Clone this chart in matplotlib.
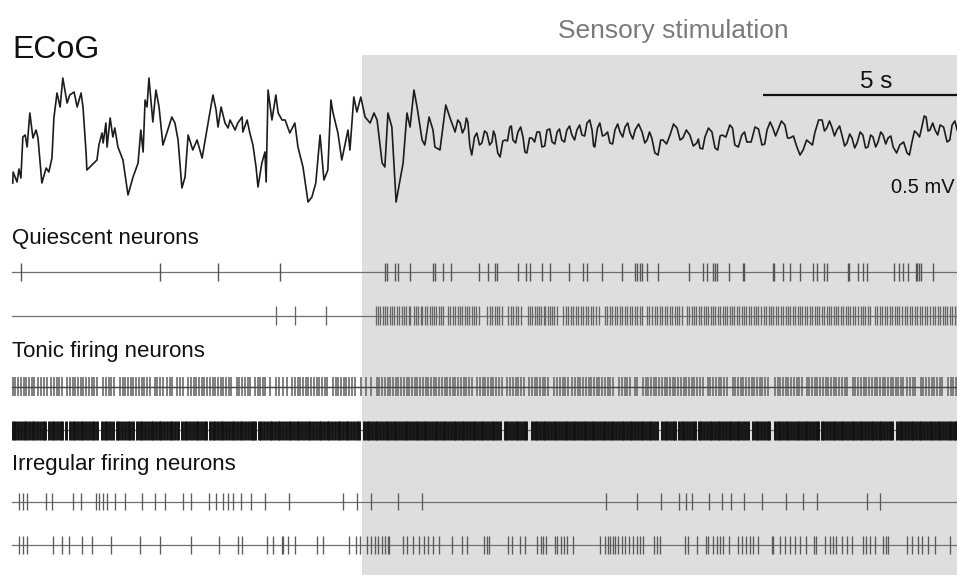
import numpy as np
import matplotlib
matplotlib.use("Agg")
import matplotlib.pyplot as plt

plt.rcParams['font.family'] = ['Liberation Sans', 'DejaVu Sans']

# ---------------- data (time in s, ECoG in mV) ----------------
ecog_t = [0.02, 0.03, 0.13, 0.18, 0.23, 0.28, 0.34, 0.39, 0.46, 0.54, 0.62, 0.67, 0.77, 0.88, 0.95,
          1.03, 1.08, 1.16, 1.24, 1.31, 1.42, 1.49, 1.60, 1.68, 1.78, 1.83, 1.91, 1.93, 2.06, 2.19,
          2.24, 2.32, 2.35, 2.42, 2.45, 2.53, 2.60, 2.65, 2.73, 2.86, 2.99, 3.12, 3.25, 3.32, 3.38,
          3.43, 3.48, 3.53, 3.63, 3.71, 3.79, 3.89, 3.99, 4.12, 4.20, 4.28, 4.38, 4.46, 4.54, 4.66,
          4.77, 4.90, 5.00, 5.08, 5.18, 5.26, 5.31, 5.39, 5.49, 5.57, 5.62, 5.75, 5.82, 5.93, 5.95,
          6.06, 6.13, 6.21, 6.29, 6.34, 6.44, 6.52, 6.55, 6.60, 6.70, 6.80, 6.86, 6.96, 7.04, 7.16,
          7.29, 7.37, 7.50, 7.63, 7.73, 7.83, 7.94, 8.04, 8.14, 8.22, 8.27, 8.40, 8.50, 8.66, 8.71,
          8.81, 8.89, 8.99, 9.10, 9.23, 9.33, 9.41, 9.54, 9.61, 9.69, 9.79, 9.90, 9.97, 10.08, 10.18,
          10.26, 10.36, 10.44, 10.57, 10.64, 10.75, 10.85, 10.90, 11.03, 11.18, 11.29, 11.42, 11.55,
          11.67, 11.75, 11.85, 11.98, 12.11, 12.24, 12.37, 12.45, 12.58, 12.71, 12.83, 12.91, 13.04,
          13.17, 13.27, 13.40, 13.53, 13.66, 13.79, 13.92, 14.05, 14.17, 14.30, 14.43, 14.56, 14.69,
          14.82, 14.95, 15.02, 15.15, 15.28, 15.41, 15.54, 15.67, 15.80, 15.93, 16.06, 16.24, 16.37,
          16.49, 16.65, 16.78, 16.96, 17.14, 17.29, 17.47, 17.65, 17.73, 17.86, 18.04, 18.19, 18.30,
          18.50, 18.63, 18.81, 18.94, 19.15, 19.33, 19.46, 19.61, 19.74, 19.92, 20.05, 20.23, 20.39,
          20.57, 20.69, 20.88, 21.00, 21.13, 21.26, 21.39, 21.52, 21.65, 21.78, 21.93, 22.06, 22.19,
          22.32, 22.45, 22.58, 22.71, 22.88, 23.07, 23.19, 23.32, 23.45, 23.56, 23.66, 23.79, 23.92,
          24.10, 24.23, 24.36]
ecog_mv = [-0.215, -0.16, -0.21, -0.145, -0.19, 0.015, 0.025, -0.035, 0.135, 0.01, 0.05, 0.01, -0.215,
           -0.14, -0.16, -0.09, 0.11, 0.235, 0.165, 0.31, 0.185, 0.225, 0.24, 0.165, 0.235, 0.165,
           -0.065, -0.15, -0.125, -0.10, -0.025, 0.035, -0.015, 0.085, -0.035, 0.11, 0.015, 0.06,
           -0.035, -0.10, -0.275, -0.185, -0.115, 0.05, -0.06, 0.20, 0.165, 0.31, 0.09, 0.25, 0.165,
           -0.025, 0.035, 0.115, 0.085, 0.0, -0.24, -0.185, 0.025, -0.05, 0.0, -0.09, 0.025, 0.115,
           0.225, 0.15, 0.065, 0.165, 0.085, 0.06, 0.10, 0.05, 0.085, 0.115, 0.04, 0.10, 0.035,
           -0.025, -0.135, -0.235, -0.115, -0.06, -0.21, 0.25, 0.10, 0.225, 0.135, 0.10, 0.10, 0.035,
           0.085, -0.035, -0.135, -0.31, -0.285, -0.215, 0.025, -0.20, -0.15, 0.20, 0.14, 0.035,
           -0.10, 0.05, -0.05, 0.215, 0.14, 0.215, 0.115, 0.085, 0.135, 0.10, -0.115, -0.135, 0.135,
           0.065, -0.31, -0.235, -0.115, 0.135, 0.065, 0.25, 0.165, 0.0, -0.025, 0.115, 0.05, -0.035,
           -0.05, 0.175, 0.11, 0.04, 0.085, 0.06, 0.09, -0.075, 0.035, -0.015, 0.035, -0.01, 0.025,
           -0.085, 0.0, 0.065, 0.0, 0.04, 0.015, -0.065, 0.01, 0.04, -0.035, 0.05, -0.01, 0.04, 0.0,
           0.05, 0.025, 0.05, 0.025, 0.085, 0.05, -0.035, 0.085, 0.025, -0.015, 0.05, 0.04, 0.065,
           0.035, 0.05, 0.04, 0.0, 0.01, -0.075, 0.0, 0.025, 0.06, 0.01, 0.025, -0.015, -0.04, 0.015,
           0.04, -0.05, 0.025, 0.075, -0.025, 0.025, -0.01, 0.065, -0.025, 0.05, 0.06, 0.05, 0.075,
           0.01, -0.035, -0.05, -0.015, 0.035, 0.10, 0.06, 0.065, 0.05, 0.025, -0.015, 0.01, -0.015,
           0.025, -0.035, 0.015, -0.01, 0.025, 0.01, -0.035, -0.025, -0.065, -0.015, 0.035, 0.065,
           0.115, 0.05, 0.05, 0.075, -0.01, 0.075, 0.05]
# fast jitter samples read between the coarse points after stimulation
ecog_jitter_t = [11.49, 11.61, 11.71, 11.80, 11.92, 12.05, 12.18, 12.31, 12.41, 12.52, 12.65, 12.77,
                 12.87, 12.98, 13.11, 13.22, 13.34, 13.47, 13.60, 13.73, 13.86, 13.99, 14.11, 14.24,
                 14.37, 14.50, 14.63, 14.76, 14.89, 14.99, 15.09, 15.22, 15.35, 15.48, 15.61, 15.74,
                 15.87, 16.00, 16.15, 16.31, 16.43, 16.57, 16.72, 16.87, 17.05, 17.22, 17.38, 17.56,
                 17.69, 17.80, 17.95, 18.12, 18.25, 18.40, 18.57, 18.72, 18.88, 19.05, 19.24, 19.40,
                 19.54, 19.68, 19.83, 19.99, 20.14, 20.31, 20.48, 20.63, 20.79, 20.94, 21.07, 21.20,
                 21.33, 21.46, 21.59, 21.72, 21.86, 22.00, 22.13, 22.26, 22.39, 22.52, 22.65, 22.80,
                 22.98, 23.13, 23.26, 23.39, 23.51, 23.61, 23.73, 23.86, 24.01, 24.17, 24.30]
ecog_jitter_mv = [0.10, 0.035, 0.11, -0.03, 0.015, -0.025, 0.045, -0.025, 0.045, -0.065, -0.005,
                  -0.005, 0.07, -0.015, 0.065, -0.06, 0.01, -0.01, 0.04, -0.03, 0.055, -0.02, 0.055,
                  -0.01, 0.07, 0.0, 0.075, 0.02, 0.10, -0.03, 0.06, 0.02, 0.04, -0.02, 0.08, 0.015,
                  0.085, 0.005, 0.08, -0.015, 0.04, -0.065, 0.0, -0.02, 0.08, 0.0, 0.05, -0.03, 0.005,
                  -0.045, 0.06, -0.04, 0.02, 0.015, 0.06, -0.035, 0.04, -0.01, 0.055, -0.02, 0.09,
                  0.02, 0.095, 0.01, 0.02, -0.075, 0.0, -0.025, 0.10, 0.045, 0.095, 0.02, 0.07, -0.03,
                  0.03, -0.04, 0.04, -0.04, 0.025, -0.035, 0.04, -0.02, 0.02, -0.065, -0.01, -0.075,
                  0.045, 0.015, 0.12, 0.045, 0.085, 0.025, 0.065, 0.0, 0.095]

quiescent_1 = [0.23, 3.81, 5.31, 6.91, 9.61, 9.67, 9.87, 9.94, 10.26, 10.86, 10.89, 11.12, 11.31,
               12.04, 12.28, 12.45, 12.49, 13.05, 13.25, 13.35, 13.65, 13.87, 14.36, 14.72, 14.81,
               15.20, 15.71, 16.06, 16.12, 16.19, 16.25, 16.36, 16.66, 17.46, 17.80, 17.92, 18.06,
               18.12, 18.18, 18.49, 18.83, 18.87, 19.61, 19.64, 19.86, 20.05, 20.31, 20.64, 20.74,
               20.93, 21.00, 21.55, 21.58, 21.81, 21.94, 22.03, 22.73, 22.87, 22.97, 23.10, 23.30,
               23.33, 23.38, 23.42, 23.75]

quiescent_2 = [6.80, 7.29, 8.09,
               9.38, 9.44, 9.49, 9.55, 9.62, 9.67, 9.74, 9.80, 9.85, 9.93, 9.98, 10.04, 10.11, 10.16,
               10.22, 10.27, 10.35, 10.40, 10.46, 10.53, 10.58, 10.65, 10.70, 10.77, 10.82, 10.88,
               10.94, 11.01, 11.06, 11.12,
               11.24, 11.30, 11.37, 11.42, 11.49, 11.55, 11.60, 11.68, 11.73, 11.79, 11.86, 11.91,
               11.97, 12.03,
               12.24, 12.31, 12.37, 12.44, 12.50, 12.56, 12.62,
               12.78, 12.85, 12.92, 12.98, 13.05, 13.11,
               13.30, 13.36, 13.41, 13.47, 13.53, 13.58, 13.64, 13.70, 13.75, 13.81, 13.86, 13.92,
               13.98, 14.04,
               14.20, 14.27, 14.33, 14.40, 14.46, 14.53, 14.59, 14.66, 14.72, 14.79, 14.85, 14.92,
               14.98, 15.05, 15.12,
               15.28, 15.34, 15.41, 15.47, 15.54, 15.60, 15.66, 15.73, 15.79, 15.86, 15.92, 15.99,
               16.05, 16.12, 16.18, 16.24,
               16.37, 16.43, 16.50, 16.56, 16.63, 16.69, 16.75, 16.82, 16.88, 16.95, 17.01, 17.08,
               17.14, 17.20, 17.27,
               17.40, 17.46, 17.52, 17.58, 17.64, 17.70, 17.77, 17.83, 17.89, 17.95, 18.01, 18.07,
               18.13, 18.19, 18.26, 18.32, 18.38, 18.44, 18.50, 18.56, 18.62, 18.69, 18.75, 18.81,
               18.87, 18.93, 18.99, 19.05, 19.12, 19.18, 19.24, 19.30, 19.37, 19.43,
               19.50, 19.56, 19.62, 19.69, 19.75, 19.81, 19.87, 19.94, 20.00, 20.06, 20.12, 20.19,
               20.25, 20.31, 20.37, 20.44, 20.50, 20.56, 20.62, 20.69, 20.75, 20.81, 20.87, 20.94,
               21.00, 21.06, 21.12, 21.19, 21.24,
               21.30, 21.36, 21.42, 21.49, 21.55, 21.61, 21.68, 21.74, 21.80, 21.87, 21.93, 21.99,
               22.06, 22.12,
               22.24, 22.30, 22.37, 22.43, 22.49, 22.56, 22.62, 22.69, 22.75, 22.81, 22.87,
               22.95, 23.01, 23.08, 23.14, 23.20, 23.27, 23.33, 23.39, 23.46, 23.52, 23.57,
               23.67, 23.73, 23.80, 23.86, 23.92, 23.99, 24.05, 24.11, 24.18, 24.24, 24.30, 24.35]

tonic_1 = [0.02, 0.09, 0.16, 0.23, 0.30, 0.37, 0.44, 0.51, 0.57, 0.68, 0.75, 0.82, 0.89, 1.01, 1.08,
           1.15, 1.22, 1.29, 1.42, 1.49, 1.56, 1.63, 1.70, 1.77, 1.84, 1.91, 1.98, 2.05, 2.12, 2.19,
           2.35, 2.42, 2.49, 2.56, 2.63, 2.78, 2.85, 2.92, 2.99, 3.06, 3.13, 3.20, 3.27, 3.34, 3.41,
           3.48, 3.55, 3.68, 3.75, 3.82, 3.88, 4.00, 4.07, 4.13, 4.26, 4.33, 4.40, 4.54, 4.61, 4.68,
           4.75, 4.82, 4.89, 4.96, 5.03, 5.10, 5.17, 5.24, 5.31, 5.38, 5.45, 5.52, 5.59, 5.65, 5.79,
           5.86, 5.93, 6.00, 6.07, 6.13, 6.26, 6.33, 6.40, 6.47, 6.53, 6.66, 6.80, 6.87, 6.98, 7.10,
           7.22, 7.29, 7.36, 7.43, 7.50, 7.57, 7.64, 7.71, 7.78, 7.85, 7.92, 7.99, 8.06, 8.13, 8.27,
           8.34, 8.41, 8.48, 8.55, 8.62, 8.69, 8.76, 8.83, 8.99, 9.12, 9.25, 9.40, 9.47, 9.54, 9.61,
           9.68, 9.75, 9.82, 9.89, 9.96, 10.03, 10.10, 10.17, 10.24, 10.31, 10.38, 10.45, 10.52,
           10.59, 10.66, 10.73, 10.80, 10.87, 10.94, 11.01, 11.08, 11.15, 11.22, 11.29, 11.36, 11.43,
           11.50, 11.57, 11.64, 11.71, 11.78, 11.86, 11.99, 12.06, 12.13, 12.20, 12.27, 12.34, 12.41,
           12.48, 12.55, 12.62, 12.77, 12.84, 12.91, 12.98, 13.05, 13.12, 13.19, 13.33, 13.40, 13.47,
           13.54, 13.61, 13.68, 13.75, 13.82, 13.98, 14.05, 14.12, 14.19, 14.26, 14.32, 14.44, 14.51,
           14.58, 14.65, 14.72, 14.79, 14.86, 14.93, 15.00, 15.07, 15.14, 15.21, 15.28, 15.35, 15.42,
           15.49, 15.65, 15.72, 15.79, 15.86, 15.93, 16.06, 16.12, 16.26, 16.33, 16.40, 16.47, 16.54,
           16.61, 16.68, 16.75, 16.82, 16.89, 16.96, 17.03, 17.10, 17.17, 17.24, 17.31, 17.38, 17.45,
           17.52, 17.59, 17.66, 17.73, 17.80, 17.93, 18.00, 18.07, 18.14, 18.21, 18.28, 18.35, 18.42,
           18.57, 18.64, 18.71, 18.78, 18.85, 18.92, 18.99, 19.06, 19.13, 19.20, 19.27, 19.34, 19.41,
           19.48, 19.66, 19.73, 19.80, 19.87, 19.94, 20.01, 20.08, 20.15, 20.22, 20.29, 20.35, 20.48,
           20.55, 20.62, 20.69, 20.76, 20.83, 20.90, 20.97, 21.04, 21.11, 21.18, 21.25, 21.32, 21.39,
           21.46, 21.53, 21.67, 21.74, 21.81, 21.88, 21.95, 22.02, 22.09, 22.16, 22.23, 22.30, 22.37,
           22.44, 22.51, 22.58, 22.65, 22.71, 22.79, 22.84, 22.90, 22.96, 23.07, 23.14, 23.21, 23.28,
           23.42, 23.49, 23.56, 23.63, 23.70, 23.77, 23.84, 23.91, 23.98, 24.12, 24.19, 24.26, 24.33]

tonic_2 = [0.02, 0.09, 0.16, 0.23, 0.30, 0.37, 0.44, 0.51, 0.58, 0.65, 0.72, 0.79, 0.85, 0.95, 1.02,
           1.09, 1.16, 1.23, 1.30, 1.40, 1.49, 1.56, 1.63, 1.70, 1.77, 1.84, 1.91, 1.98, 2.05, 2.12,
           2.19, 2.32, 2.39, 2.46, 2.53, 2.60, 2.70, 2.77, 2.84, 2.91, 2.98, 3.05, 3.12, 3.22, 3.29,
           3.36, 3.43, 3.50, 3.57, 3.64, 3.71, 3.78, 3.85, 3.92, 3.99, 4.06, 4.13, 4.20, 4.27, 4.38,
           4.45, 4.52, 4.59, 4.66, 4.73, 4.80, 4.87, 4.94, 5.00, 5.10, 5.17, 5.24, 5.31, 5.38, 5.45,
           5.52, 5.59, 5.66, 5.73, 5.80, 5.87, 5.94, 6.01, 6.08, 6.15, 6.22, 6.27, 6.36, 6.43, 6.50,
           6.57, 6.64, 6.71, 6.78, 6.85, 6.92, 6.99, 7.06, 7.13, 7.20, 7.27, 7.34, 7.41, 7.48, 7.55,
           7.62, 7.69, 7.76, 7.83, 7.90, 7.97, 8.04, 8.11, 8.18, 8.25, 8.32, 8.39, 8.46, 8.53, 8.60,
           8.67, 8.74, 8.81, 8.88, 8.95, 9.07, 9.14, 9.21, 9.28, 9.35, 9.42, 9.49, 9.56, 9.63, 9.70,
           9.77, 9.84, 9.91, 9.98, 10.05, 10.12, 10.19, 10.26, 10.33, 10.40, 10.47, 10.54, 10.61,
           10.68, 10.75, 10.82, 10.89, 10.96, 11.03, 11.10, 11.17, 11.24, 11.31, 11.38, 11.45, 11.52,
           11.59, 11.66, 11.73, 11.80, 11.87, 11.94, 12.01, 12.08, 12.15, 12.22, 12.29, 12.36, 12.43,
           12.50, 12.57, 12.70, 12.77, 12.84, 12.91, 12.98, 13.05, 13.12, 13.19, 13.26, 13.40, 13.47,
           13.54, 13.61, 13.68, 13.75, 13.82, 13.89, 13.96, 14.03, 14.10, 14.17, 14.24, 14.31, 14.38,
           14.45, 14.52, 14.59, 14.66, 14.73, 14.80, 14.87, 14.94, 15.01, 15.08, 15.15, 15.22, 15.29,
           15.36, 15.43, 15.50, 15.57, 15.64, 15.71, 15.78, 15.85, 15.92, 15.99, 16.06, 16.13, 16.20,
           16.27, 16.34, 16.41, 16.48, 16.55, 16.62, 16.75, 16.82, 16.89, 16.96, 17.03, 17.10, 17.19,
           17.26, 17.33, 17.40, 17.47, 17.54, 17.60, 17.70, 17.77, 17.84, 17.91, 17.98, 18.05, 18.12,
           18.19, 18.26, 18.33, 18.40, 18.47, 18.54, 18.61, 18.68, 18.75, 18.82, 18.89, 18.96, 19.10,
           19.17, 19.24, 19.31, 19.38, 19.45, 19.52, 19.66, 19.73, 19.80, 19.87, 19.94, 20.01, 20.08,
           20.15, 20.22, 20.29, 20.36, 20.43, 20.50, 20.57, 20.64, 20.71, 20.77, 20.87, 20.94, 21.01,
           21.08, 21.15, 21.22, 21.29, 21.36, 21.43, 21.50, 21.57, 21.64, 21.71, 21.78, 21.85, 21.92,
           21.99, 22.06, 22.13, 22.20, 22.27, 22.34, 22.41, 22.48, 22.55, 22.62, 22.69, 22.81, 22.88,
           22.95, 23.02, 23.09, 23.16, 23.23, 23.30, 23.37, 23.44, 23.51, 23.58, 23.65, 23.72, 23.79,
           23.86, 23.93, 24.00, 24.07, 24.14, 24.21, 24.28, 24.34]

irregular_1 = [0.18, 0.28, 0.38, 0.87, 1.02, 1.58, 1.77, 2.16, 2.25, 2.34, 2.46, 2.65, 2.91, 3.34,
               3.69, 3.94, 4.41, 4.61, 5.08, 5.26, 5.43, 5.57, 5.70, 5.89, 6.15, 6.52, 7.15, 8.54,
               8.90, 9.24, 9.96, 10.56, 15.31, 16.10, 16.73, 17.19, 17.37, 17.52, 17.96, 18.29,
               18.52, 18.87, 19.32, 19.95, 20.38, 20.74, 22.03, 22.37]

irregular_2 = [0.18, 0.28, 0.38, 1.06, 1.28, 1.48, 1.80, 2.05, 2.54, 3.30, 3.81, 4.61, 5.34, 5.83,
               5.92, 6.58, 6.72, 6.95, 6.99, 7.12, 7.29, 7.85, 8.01, 8.69, 8.87, 8.97, 9.14, 9.24,
               9.36, 9.44, 9.53, 9.61, 9.70, 9.72, 10.09, 10.19, 10.34, 10.50, 10.62, 10.73, 10.84,
               11.01, 11.33, 11.59, 11.73, 12.16, 12.23, 12.30, 12.79, 12.88, 13.09, 13.22, 13.52,
               13.63, 13.69, 13.76, 13.99, 14.05, 14.14, 14.23, 14.31, 14.45, 15.15, 15.28, 15.35,
               15.41, 15.48, 15.55, 15.63, 15.71, 15.80, 15.91, 16.00, 16.10, 16.19, 16.27, 16.55,
               16.62, 16.70, 17.35, 17.43, 17.65, 17.89, 17.93, 18.06, 18.16, 18.25, 18.33, 18.49,
               18.72, 18.81, 18.92, 19.02, 19.11, 19.23, 19.58, 19.62, 19.79, 19.92, 20.05, 20.18,
               20.31, 20.46, 20.68, 20.72, 20.95, 21.08, 21.17, 21.25, 21.38, 21.51, 21.64, 21.94,
               22.01, 22.11, 22.24, 22.46, 22.53, 22.58, 23.06, 23.19, 23.36, 23.45, 23.62, 23.79,
               24.17]

row_labels = ["Quiescent neurons", "Tonic firing neurons", "Irregular firing neurons"]
stim_start = 9.02          # s
scale_bar_s = 5.0          # s
scale_label_mv = "0.5 mV"

# ---------------- layout ----------------
W, H = 957, 575
T0, T1 = -0.309, 24.356
fig = plt.figure(figsize=(W / 100, H / 100), dpi=100)
fig.patch.set_facecolor("white")

bg = fig.add_axes([0, 0, 1, 1])
bg.set_xlim(T0, T1)
bg.set_ylim(H, 0)
bg.axis("off")

# stimulation shading
bg.axvspan(stim_start, T1 + 1, ymin=0, ymax=1 - 55 / H, color="#dedede", lw=0, zorder=0)
bg.text((stim_start + T1) / 2 + 0.36, 38, "Sensory stimulation", ha="center", va="baseline",
        fontsize=19, color="#7a7a7a")

bg.text(0.0, 58, "ECoG", ha="left", va="baseline", fontsize=23, color="#111111")

# scale bar
bg.plot([T1 - scale_bar_s, T1], [95, 95], color="#111111", lw=1.6, solid_capstyle="butt", zorder=3)
bg.text(T1 - 2.07, 88, f"{scale_bar_s:.0f} s", ha="center", va="baseline", fontsize=17.5,
        color="#111111")
bg.text(T1 - 0.05, 193, scale_label_mv, ha="right", va="baseline", fontsize=14.5, color="#111111")

# row labels
for lab, yb in zip(row_labels, [244, 357, 470]):
    bg.text(0.0, yb, lab, ha="left", va="baseline", fontsize=16, color="#111111")

# rasters
rows_y = [271.5, 315.7, 386.7, 430.0, 501.7, 545.0]
trains = [quiescent_1, quiescent_2, tonic_1, tonic_2, irregular_1, irregular_2]
colors = ["#555555", "#666666", "#7a7a7a", "#131313", "#5a5a5a", "#5a5a5a"]
lwidths = [1.0, 0.95, 1.35, 2.1, 0.95, 0.95]
lengths = [18, 19, 19, 19, 17, 18]
for yb in rows_y:
    bg.plot([0.0, T1 + 1], [yb, yb], color="#6f6f6f", lw=0.9, zorder=2)
bg.eventplot(trains, lineoffsets=rows_y, linelengths=lengths, colors=colors,
             linewidths=lwidths, zorder=3)
bg.plot([0.0, T1 + 1], [386.7, 386.7], color="#444444", lw=0.9, zorder=4)

# ECoG trace (coarse samples + fast jitter samples, time ordered)
all_t = np.concatenate([ecog_t, ecog_jitter_t])
all_v = np.concatenate([ecog_mv, ecog_jitter_mv])
order = np.argsort(all_t, kind="stable")
ax = fig.add_axes([0, 1 - 220 / H, 1, 160 / H])
ax.set_xlim(T0, T1)
ax.set_ylim(-0.4, 0.4)
ax.patch.set_alpha(0)
ax.axis("off")
ax.plot(all_t[order], all_v[order], color="#1c1c1c", lw=1.2)

fig.savefig("out.png", dpi=100)
